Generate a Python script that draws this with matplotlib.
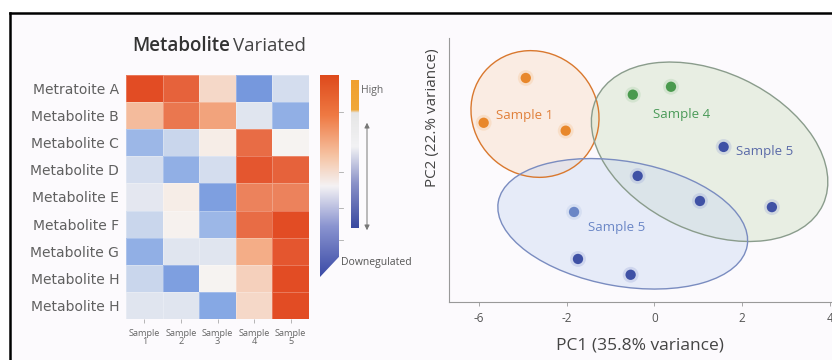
import numpy as np
import matplotlib
matplotlib.use("Agg")
import matplotlib.pyplot as plt
from matplotlib.colors import LinearSegmentedColormap
from matplotlib.patches import Ellipse, Rectangle, Polygon
from matplotlib.lines import Line2D

plt.rcParams['font.family'] = ['Open Sans', 'DejaVu Sans']

# ---------------- data ----------------
metabolites = ["Metratoite A", "Metabolite B", "Metabolite C", "Metabolite D",
               "Metabolite E", "Metabolite F", "Metabolite G", "Metabolite H",
               "Metabolite H"]
samples = ["Sample\n1", "Sample\n2", "Sample\n3", "Sample\n4", "Sample\n5"]
heat_values = [
    [0.95, 0.85, 0.20, -0.60, -0.15],
    [0.40, 0.75, 0.55, -0.10, -0.45],
    [-0.40, -0.20, 0.05, 0.80, 0.00],
    [-0.15, -0.45, -0.15, 0.90, 0.85],
    [-0.08, 0.05, -0.55, 0.70, 0.70],
    [-0.20, 0.02, -0.40, 0.80, 0.95],
    [-0.45, -0.10, -0.10, 0.50, 0.90],
    [-0.20, -0.55, 0.00, 0.25, 0.95],
    [-0.10, -0.10, -0.50, 0.20, 0.95],
]

pc1_orange = [-2.93, -3.89, -2.02]
pc2_orange = [5.10, 4.08, 3.90]
pc1_green = [-0.49, 0.38]
pc2_green = [4.72, 4.90]
pc1_blue = [1.58, -0.38, 1.04, 2.68, -1.74, -0.54]
pc2_blue = [3.53, 2.87, 2.30, 2.16, 0.98, 0.62]
pc1_lblue = [-1.83]
pc2_lblue = [2.05]

x_tick_pos = [-4, -2, 0, 2, 4]
x_tick_labels = ["-6", "-2", "0", "2", "4"]

W, H = 832, 360
fig = plt.figure(figsize=(W / 100, H / 100), dpi=100)
fig.patch.set_facecolor("white")

def fx(px):
    return px / W

def fy(py):
    return 1 - py / H

# frame
fig.patches.append(Rectangle((fx(10), fy(362)), fx(830), fy(12.5) - fy(362),
                             transform=fig.transFigure, facecolor="#fcfafd",
                             edgecolor="none", zorder=-10))
fig.lines.append(Line2D([fx(10), fx(832)], [fy(12.5), fy(12.5)],
                        transform=fig.transFigure, color="black", lw=1.8))
fig.lines.append(Line2D([fx(10), fx(10)], [fy(12.5), fy(360)],
                        transform=fig.transFigure, color="black", lw=1.8))

# ---------------- heatmap ----------------
hm_cmap = LinearSegmentedColormap.from_list(
    "hm", [(0.0, "#3656c0"), (0.25, "#86a8e4"), (0.5, "#f6f4f2"),
           (0.75, "#f4ae88"), (1.0, "#e0421a")])
axh = fig.add_axes([fx(126), fy(319), fx(309) - fx(126), fy(75) - fy(319)])
data = np.array(heat_values)
axh.pcolormesh(data, cmap=hm_cmap, vmin=-1, vmax=1,
               edgecolor=(1, 1, 1, 0.25), linewidth=0.4)
axh.set_xlim(0, data.shape[1])
axh.set_ylim(data.shape[0], 0)
axh.set_yticks(np.arange(data.shape[0]) + 0.5)
axh.set_yticklabels(metabolites, fontsize=10, color="#606060",
                    family="DejaVu Sans")
axh.set_xticks(np.arange(data.shape[1]) + 0.5)
axh.set_xticklabels(samples, fontsize=6.6, color="#666666", linespacing=0.9,
                    family="Open Sans")
axh.tick_params(axis="y", length=0, pad=5)
axh.tick_params(axis="x", length=3, width=0.5, color="#999999", pad=4)
for s in axh.spines.values():
    s.set_visible(False)

fig.text(fx(230), fy(46), "Metabolite", fontsize=13.5, fontweight="semibold",
         color="#333333", ha="right", va="center")
fig.text(fx(233), fy(46), "Variated", fontsize=13.5, color="#444444",
         ha="left", va="center")

# main colorbar (slanted bottom)
cb_cmap = LinearSegmentedColormap.from_list(
    "cb", [(0.0, "#3a4aa6"), (0.25, "#8a94d0"), (0.45, "#f4f2f4"),
           (0.6, "#f6c4a4"), (0.8, "#ef7a44"), (1.0, "#de4a1c")])
axc = fig.add_axes([fx(320), fy(277), fx(339) - fx(320), fy(75) - fy(277)])
grad = np.linspace(0, 1, 256).reshape(-1, 1)
im = axc.imshow(grad, cmap=cb_cmap, aspect="auto", origin="lower",
                extent=[0, 1, 0, 1])
clip = Polygon([(0, 1), (1, 1), (1, 0.1), (0, 0)], closed=True,
               transform=axc.transAxes, facecolor="none", edgecolor="none")
axc.add_patch(clip)
im.set_clip_path(clip)
axc.set_xlim(0, 1)
axc.set_ylim(0, 1)
axc.axis("off")
for yy in [0.817, 0.52, 0.342, 0.183]:
    axc.plot([1.0, 1.2], [yy, yy], color="#aaaaaa", lw=0.6,
             transform=axc.transAxes, clip_on=False)

# narrow legend bar
bar_cmap = LinearSegmentedColormap.from_list(
    "bar", [(0.0, "#3848a0"), (0.3, "#8a92c8"), (0.55, "#f2f2f4"),
            (0.78, "#e6e6e6"), (0.8, "#f0a838"), (1.0, "#f0a030")])
axb = fig.add_axes([fx(351), fy(228), fx(359) - fx(351), fy(80) - fy(228)])
axb.imshow(grad, cmap=bar_cmap, aspect="auto", origin="lower",
           extent=[0, 1, 0, 1])
axb.axis("off")

fig.add_artist(matplotlib.patches.FancyArrowPatch(
    (fx(367), fy(233)), (fx(367), fy(120)), transform=fig.transFigure,
    arrowstyle="<|-|>,head_length=3,head_width=1.5", color="#777777", lw=0.7))

fig.text(fx(361), fy(90), "High", fontsize=7.5, color="#666666",
         ha="left", va="center")
fig.text(fx(341), fy(263), "Downegulated", fontsize=7.5, color="#555555",
         ha="left", va="center")

# ---------------- PCA scatter ----------------
axs = fig.add_axes([fx(449), fy(302), fx(832) - fx(449), fy(38) - fy(302)])
axs.set_facecolor("none")
axs.set_xlim(-4.68, 4.05)
axs.set_ylim(0, 6.01)

ell_specs = [
    ((-2.72, 4.28), 3.0, 2.8, -40, "#f8dcc4", 0.45, "#d9782e"),
    ((1.26, 3.42), 5.7, 3.64, -25, "#dce7d2", 0.6, "#8a9c8c"),
    ((-0.72, 1.78), 5.76, 2.84, -10, "#ccd9f2", 0.45, "#7a8cc0"),
]
for center, w, h, ang, fc, a, ec in ell_specs:
    axs.add_patch(Ellipse(center, w, h, angle=ang, facecolor=fc, alpha=a,
                          edgecolor="none", zorder=1))
    axs.add_patch(Ellipse(center, w, h, angle=ang, facecolor="none",
                          edgecolor=ec, lw=1.0, zorder=2))

def pts(xs, ys, c, halo):
    axs.scatter(xs, ys, s=130, color=halo, alpha=0.3, edgecolors="none",
                zorder=3)
    axs.scatter(xs, ys, s=55, color=c, edgecolors="none", zorder=4)

pts(pc1_orange, pc2_orange, "#e8872a", "#f6c08a")
pts(pc1_green, pc2_green, "#4a9a4e", "#a6cfa6")
pts(pc1_blue, pc2_blue, "#3f51a5", "#9aa6d8")
pts(pc1_lblue, pc2_lblue, "#6a86c6", "#b4c4e6")

lab_fs = 9.5
axs.text(-2.95, 4.24, "Sample 1", fontsize=lab_fs, color="#e0803a",
         ha="center", va="center", zorder=5)
axs.text(0.63, 4.26, "Sample 4", fontsize=lab_fs, color="#4a9a58",
         ha="center", va="center", zorder=5)
axs.text(2.52, 3.42, "Sample 5", fontsize=lab_fs, color="#5a6aa8",
         ha="center", va="center", zorder=5)
axs.text(-0.85, 1.69, "Sample 5", fontsize=lab_fs, color="#6a86c6",
         ha="center", va="center", zorder=5)

axs.set_xticks(x_tick_pos)
axs.set_xticklabels(x_tick_labels, fontsize=8.5, color="#555555")
axs.set_yticks([])
axs.tick_params(axis="x", length=3, width=0.6, color="#999999", pad=4)
for side in ["top", "right"]:
    axs.spines[side].set_visible(False)
for side in ["left", "bottom"]:
    axs.spines[side].set_color("#999999")
    axs.spines[side].set_linewidth(0.8)

fig.text(fx(640), fy(346), "PC1 (35.8% variance)", fontsize=12.5,
         color="#444444", ha="center", va="center")
fig.text(fx(432), fy(118), "PC2 (22.% variance)", fontsize=11,
         color="#444444", ha="center", va="center", rotation=90)

fig.savefig("out.png", dpi=100)
